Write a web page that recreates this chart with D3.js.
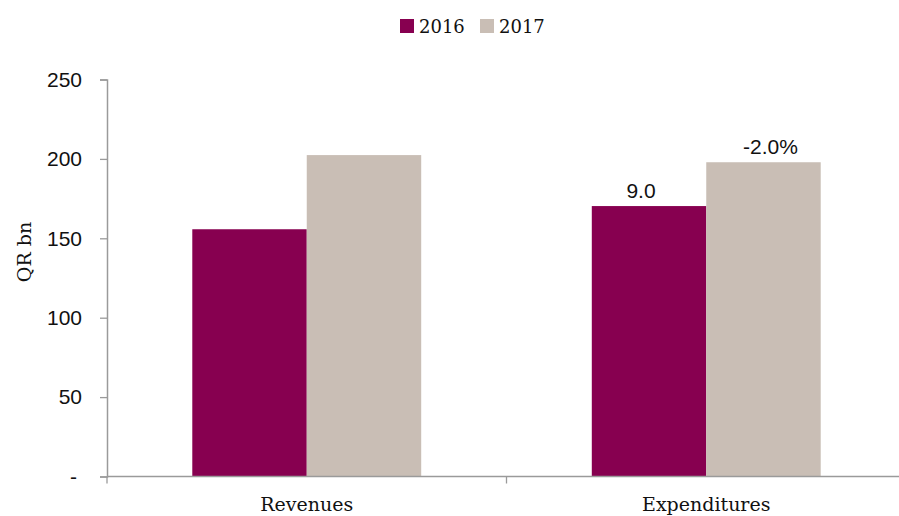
<!DOCTYPE html>
<html>
<head>
<meta charset="utf-8">
<script src="https://cdn.jsdelivr.net/npm/d3@7/dist/d3.min.js"></script>
<style>
  html, body { margin: 0; padding: 0; background: #fff; }
  svg { display: block; }
</style>
</head>
<body>
<script>
// Budget revenues and expenditures, QR bn
const categories = ["Revenues", "Expenditures"];
const seriesNames = ["2016", "2017"];
const values2016 = [155.7, 170.3];
const values2017 = [202.4, 197.9];
const yTicks = [0, 50, 100, 150, 200, 250];
// Annotations shown above the expenditure bars
const annotations = [
  { category: "Expenditures", series: "2016", text: "9.0", dx: -8 },
  { category: "Expenditures", series: "2017", text: "-2.0%", dx: 7 }
];

const colors = { "2016": "#870050", "2017": "#C9BEB5" };
const W = 899, H = 516;
const margin = { top: 79.5, right: -7, bottom: 39.5, left: 107 };

const svg = d3.select("body").append("svg")
  .attr("width", W).attr("height", H);

const x0 = d3.scaleBand()
  .domain(categories)
  .range([margin.left, W - margin.right]);
const groupFrac = 0.573;
const x1 = d3.scaleBand()
  .domain(seriesNames)
  .range([x0.bandwidth() * (1 - groupFrac) / 2, x0.bandwidth() * (1 + groupFrac) / 2]);
const y = d3.scaleLinear()
  .domain([0, 250])
  .range([H - margin.bottom, margin.top]);

const axisColor = "#9a9a9a";
const sans = "'Liberation Sans', Arial, sans-serif";
const serif = "'DejaVu Serif', serif";

const rows = categories.map((c, i) => ({
  category: c,
  values: [
    { series: "2016", value: values2016[i] },
    { series: "2017", value: values2017[i] }
  ]
}));

// Bars
const groups = svg.append("g").selectAll("g")
  .data(rows).join("g")
  .attr("transform", d => `translate(${x0(d.category)},0)`);
groups.selectAll("rect")
  .data(d => d.values).join("rect")
  .attr("x", d => x1(d.series))
  .attr("width", x1.bandwidth())
  .attr("y", d => y(d.value))
  .attr("height", d => y(0) - y(d.value))
  .attr("fill", d => colors[d.series]);

// Y axis
const yAxis = svg.append("g")
  .attr("transform", `translate(${margin.left},0)`)
  .call(d3.axisLeft(y).tickValues(yTicks).tickSize(7).tickPadding(18)
    .tickFormat(v => v === 0 ? "-" : d3.format("d")(v)));
yAxis.select(".domain").attr("stroke", axisColor).attr("stroke-width", 1.5);
yAxis.selectAll(".tick line").attr("stroke", axisColor).attr("stroke-width", 1.3);
yAxis.selectAll(".tick text")
  .attr("fill", "#111").style("font-family", sans).style("font-size", "21px")
  .attr("dx", v => v === 0 ? -5 : 0);

// X axis baseline with ticks at category boundaries
const xg = svg.append("g");
xg.append("line")
  .attr("x1", margin.left).attr("x2", W - margin.right)
  .attr("y1", y(0)).attr("y2", y(0))
  .attr("stroke", axisColor).attr("stroke-width", 1.5);
const bounds = categories.map(c => x0(c)).concat([x0.range()[1]]);
xg.selectAll("line.tick")
  .data(bounds).join("line").attr("class", "tick")
  .attr("x1", d => d).attr("x2", d => d)
  .attr("y1", y(0)).attr("y2", y(0) + 7)
  .attr("stroke", axisColor).attr("stroke-width", 1.3);
xg.selectAll("text")
  .data(categories).join("text")
  .attr("x", d => x0(d) + x0.bandwidth() / 2)
  .attr("y", y(0) + 34)
  .attr("text-anchor", "middle")
  .attr("fill", "#111")
  .style("font-family", serif).style("font-size", "19px")
  .text(d => d);

// Y axis title
svg.append("text")
  .attr("transform", `translate(31,252) rotate(-90)`)
  .attr("text-anchor", "middle")
  .attr("fill", "#111")
  .style("font-family", serif).style("font-size", "19px")
  .text("QR bn");

// Value annotations
svg.append("g").selectAll("text")
  .data(annotations).join("text")
  .attr("x", d => x0(d.category) + x1(d.series) + x1.bandwidth() / 2 + d.dx)
  .attr("y", d => {
    const i = categories.indexOf(d.category);
    const v = d.series === "2016" ? values2016[i] : values2017[i];
    return y(v) - 8;
  })
  .attr("text-anchor", "middle")
  .attr("fill", "#111")
  .style("font-family", sans).style("font-size", "21px")
  .text(d => d.text);

// Legend
const legend = svg.append("g").attr("transform", "translate(400,19)");
const items = legend.selectAll("g")
  .data(seriesNames).join("g")
  .attr("transform", (d, i) => `translate(${i * 80},0)`);
items.append("rect")
  .attr("width", 14).attr("height", 14)
  .attr("fill", d => colors[d]);
items.append("text")
  .attr("x", 19).attr("y", 14)
  .attr("fill", "#111")
  .style("font-family", serif).style("font-size", "18px")
  .text(d => d);
</script>
</body>
</html>
